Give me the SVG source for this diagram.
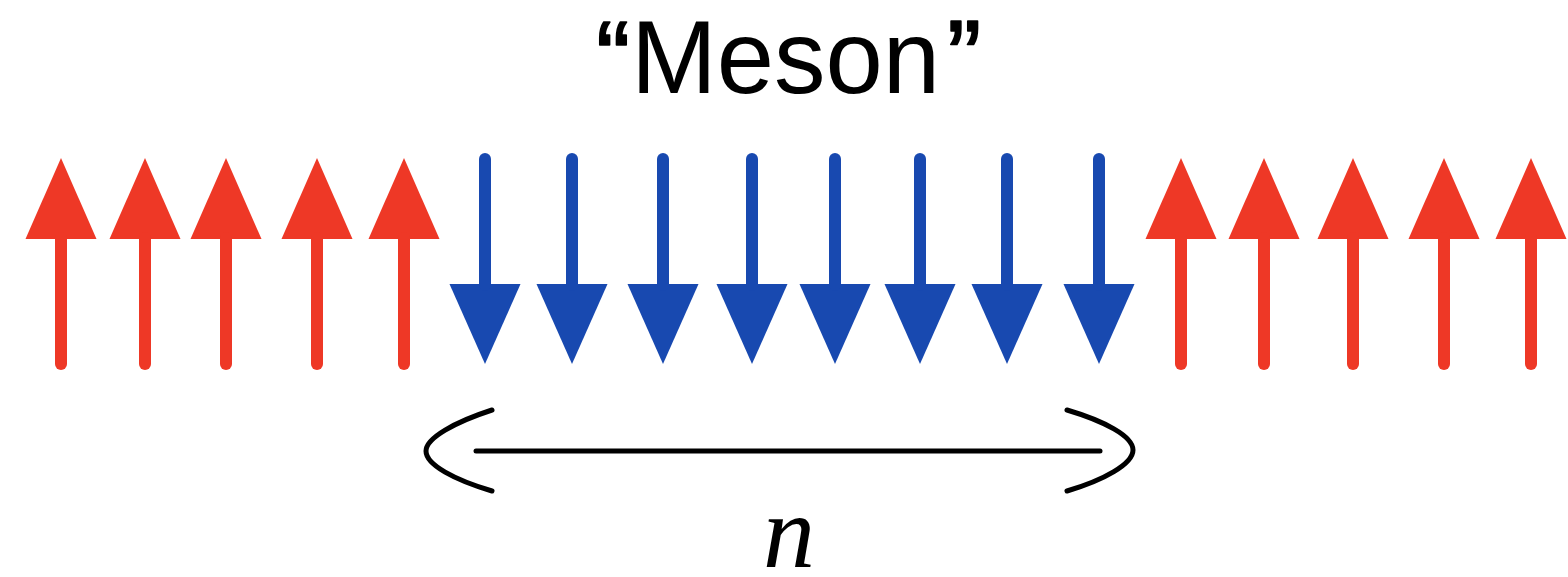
<svg xmlns="http://www.w3.org/2000/svg" width="1568" height="577" viewBox="0 0 1568 577">
<style>
.up path{fill:#EE3826}
.up line{stroke:#EE3826;stroke-width:12;stroke-linecap:round}
.dn path{fill:#1849B0}
.dn line{stroke:#1849B0;stroke-width:12;stroke-linecap:round}
.br{fill:none;stroke:#000;stroke-width:5;stroke-linecap:round}
.t{font-family:"Liberation Sans",Arial,sans-serif;font-size:103px;fill:#000}
.q{stroke:#000;stroke-width:1.6;stroke-linejoin:round}
.n{font-family:"Liberation Serif","Times New Roman",serif;font-style:italic;font-size:104px;fill:#000}
</style>
<defs>
<g id="upArrow" class="up"><path d="M0,158 L35.5,239 L-35.5,239 Z"/><line x1="0" y1="238" x2="0" y2="364"/></g>
<g id="dnArrow" class="dn"><path d="M0,364 L35.5,284 L-35.5,284 Z"/><line x1="0" y1="159" x2="0" y2="285"/></g>
</defs>
<g id="title"><text class="t" y="93"><tspan class="q" x="596">“</tspan><tspan x="631">Meson</tspan><tspan class="q" x="947">”</tspan></text></g>
<g id="spins-left">
<use href="#upArrow" x="61"/>
<use href="#upArrow" x="145"/>
<use href="#upArrow" x="226"/>
<use href="#upArrow" x="317"/>
<use href="#upArrow" x="404"/>
</g>
<g id="spins-middle">
<use href="#dnArrow" x="485"/>
<use href="#dnArrow" x="572"/>
<use href="#dnArrow" x="663"/>
<use href="#dnArrow" x="752"/>
<use href="#dnArrow" x="835"/>
<use href="#dnArrow" x="920"/>
<use href="#dnArrow" x="1007"/>
<use href="#dnArrow" x="1099"/>
</g>
<g id="spins-right">
<use href="#upArrow" x="1181"/>
<use href="#upArrow" x="1264"/>
<use href="#upArrow" x="1353"/>
<use href="#upArrow" x="1444"/>
<use href="#upArrow" x="1531"/>
</g>
<g id="connectors">
<path class="br" d="M492,410 C455,422 426,438 426,451 C426,465 455,480 492,491"/>
<line class="br" x1="476" y1="451" x2="1100" y2="451"/>
<path class="br" d="M1067,410 C1104,421 1133,436 1133,450 C1133,464 1104,480 1067,491"/>
</g>
<g id="label-n"><text class="n" x="789" y="567" text-anchor="middle">n</text></g>
</svg>
